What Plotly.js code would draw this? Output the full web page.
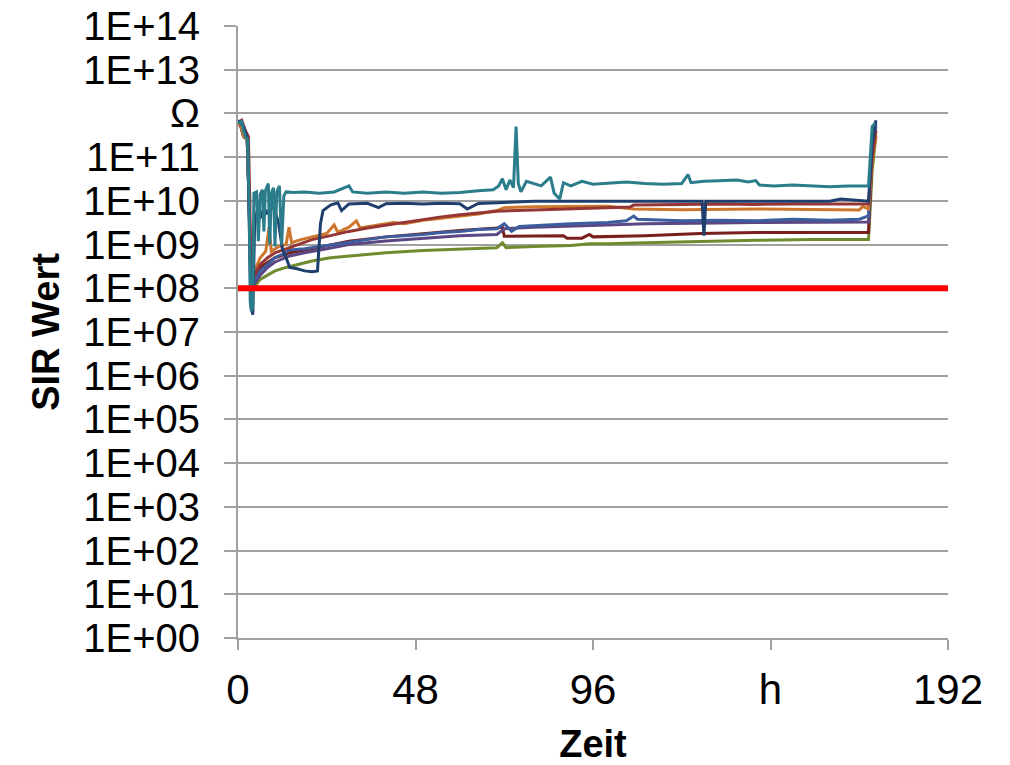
<!DOCTYPE html>
<html>
<head>
<meta charset="utf-8">
<script src="https://cdn.plot.ly/plotly-3.0.1.min.js"></script>
<style>html,body{margin:0;padding:0;background:#fff;}#chart{width:1010px;height:765px;}</style>
</head>
<body>
<div id="chart"></div>
<script>
// ---- tick labels ----
const yTickVals = [1e0,1e1,1e2,1e3,1e4,1e5,1e6,1e7,1e8,1e9,1e10,1e11,1e12,1e13,1e14];
const yTickText = ["1E+00","1E+01","1E+02","1E+03","1E+04","1E+05","1E+06","1E+07","1E+08","1E+09","1E+10","1E+11","Ω","1E+13","1E+14"];
const xTickVals = [0,48,96,144,192];
const xTickText = ["0","48","96","h","192"];

// ---- limit line ----
const limitT = [0,192];
const limitV = [1e8,1e8];

// ---- series (time in h, SIR value in Ω) ----
const oliveT = [0,0.8,1.5,2.5,3.0,3.3,3.6,4.5,6,8,10,13,16,20,25,30,40,50,60,70,71.5,72.5,80,90,95,100,110,120,126,140,155,170.5,171.5,172.5];
const oliveV = [6e11,5e11,3e11,2.5e11,1e10,1e9,8e7,1.1e8,1.6e8,2e8,2.5e8,3e8,3.5e8,4.2e8,5e8,5.5e8,6.5e8,7.3e8,8e8,8.5e8,1.1e9,8.5e8,9e8,9.5e8,1.05e9,1.05e9,1.1e9,1.15e9,1.2e9,1.25e9,1.3e9,1.3e9,5e10,3e11];

const red2T = [0,0.8,1.5,2.5,3.0,3.5,4.5,6,10,14,20,30,40,50,60,70,71.5,72,80,88,89,93,95,96,110,125,140,155,170.5,171.5,172.5];
const red2V = [6e11,5e11,3e11,2.5e11,1e10,1e8,1.8e8,3e8,5e8,6.5e8,8e8,1.2e9,1.5e9,1.8e9,2.1e9,2.4e9,2.5e9,1.55e9,1.6e9,1.6e9,1.4e9,1.4e9,1.7e9,1.5e9,1.6e9,1.8e9,1.9e9,1.9e9,1.9e9,1.2e11,4e11];

const purpleT = [0,0.8,1.5,2.5,3.0,3.5,4.5,6,8,10,14,18,24,30,40,50,60,70,72,80,90,100,110,120,130,140,150,160,170.5,171.5,172.5];
const purpleV = [6e11,5e11,3e11,2.5e11,1e10,8e7,1.3e8,2e8,3e8,4e8,5.5e8,6.5e8,8e8,1e9,1.2e9,1.4e9,1.6e9,1.7e9,2.3e9,2.5e9,2.6e9,2.8e9,3e9,3e9,3.1e9,3.2e9,3.2e9,3.3e9,3.3e9,1.5e11,5e11];

const blueT = [0,0.8,1.5,2.5,3.0,3.5,4.5,6,8,10,12,14,18,22,26,30,35,40,45,50,55,60,65,70,72,74,76,80,85,90,100,105,107,108,120,130,140,150,160,168,170.5,171.5,172.5];
const blueV = [6e11,5e11,3e11,2.5e11,1e10,6e7,1.5e8,2.5e8,3.5e8,5e8,6e8,7.5e8,8e8,9e8,1e9,1.1e9,1.3e9,1.5e9,1.6e9,1.7e9,1.9e9,2e9,2.2e9,2.3e9,3e9,2e9,2.6e9,2.7e9,2.9e9,3e9,3.2e9,3.5e9,4.5e9,3.8e9,3.5e9,3.6e9,3.5e9,3.8e9,3.6e9,3.8e9,4.5e9,1.5e11,6e11];

const orangeT = [0,0.8,1.5,2.5,3.0,3.5,4.5,6,7.5,8.4,9,11,13,13.8,14.5,17,20,24,26,27,30,32,33,38,42,45,50,55,60,65,70,72,80,90,100,107,120,140,160,168,169,170.5,171.5,172.5];
const orangeV = [6e11,5e11,3e11,2.5e11,1e10,1.3e8,2.5e8,5e8,7e8,2.5e9,7e8,9e8,1e9,2.5e9,1.1e9,1.3e9,1.5e9,1.8e9,2.8e9,1.9e9,2.5e9,3.5e9,2.4e9,2.8e9,3.2e9,3e9,3.6e9,4e9,4.5e9,5e9,6e9,7e9,7.3e9,7.5e9,7.5e9,6.5e9,6.3e9,6.5e9,6.3e9,6.2e9,7.5e9,6.5e9,8e10,3e11];

const redT = [0,1,2,2.8,3.2,3.5,4,5,6,8,10,13,16,20,25,30,35,40,45,50,55,60,65,70,80,90,96,100,106,107,110,120,130,140,150,160,170.5,171.5,172.5];
const redV = [6e11,7e11,4e11,3e11,1e10,1.2e8,1.5e8,2.5e8,3.5e8,5e8,6.5e8,8e8,1e9,1.3e9,1.6e9,2e9,2.4e9,2.8e9,3.2e9,3.8e9,4.3e9,4.8e9,5.3e9,5.8e9,6.2e9,6.5e9,6.8e9,7e9,7.2e9,8e9,8e9,8.2e9,8.5e9,8.3e9,8.5e9,8.4e9,8.5e9,1e11,4e11];

const navyT = [0,1.5,2.6,3.1,3.5,4.0,4.5,5.2,6,7,8,9,10,11,12,13,14,16,18,20,21.5,22.3,23,25,27,28,30,35,38,40,45,50,55,60,62,65,70,75,80,90,100,110,120,125.5,126,126.5,130,140,150,160,163,166,170.5,171.5,172.5];
const navyV = [7e11,5e11,2.5e11,3e9,4e7,2.5e7,3e9,6e9,4e9,7e9,5e9,8e9,6e9,3e9,8e8,5e8,3e8,2.8e8,2.5e8,2.4e8,2.5e8,3e9,6e9,8e9,9e9,6e9,8.5e9,8.8e9,7e9,8.6e9,8.8e9,8.5e9,8.8e9,8.6e9,6.5e9,8.7e9,9e9,9.5e9,9.8e9,9.8e9,9.7e9,9.8e9,9.8e9,9.8e9,1.6e9,9.8e9,9.8e9,9.8e9,9.9e9,9.8e9,1.1e10,1.05e10,9.8e9,2e11,7e11];

const tealT = [0,1,1.5,2,2.6,3.0,3.3,3.6,4.0,4.3,5,5.5,6,6.6,7,7.4,8.2,8.6,9,9.6,10,10.5,11.2,11.8,12.4,13,15,18,22,26,30,31,35,40,45,50,55,60,65,69,70.5,71.5,72.5,73.5,74.5,75.2,75.8,76.5,78,80,82,84.5,85.5,87,88,90,93,96,100,105,110,115,120,121.7,122.5,126,130,135,138,140,141,145,150,155,160,165,170.5,171.5,172.3];
const tealV = [6e11,6.5e11,4e11,3e11,2.5e11,1e10,5e7,3e7,4e7,1.5e10,1.6e10,1.2e9,1.4e10,1.8e10,2e9,1.7e10,2.5e10,1e9,1.5e10,2e10,9e8,1.6e10,2.2e10,1e9,1.3e10,1.6e10,1.55e10,1.6e10,1.5e10,1.6e10,2.2e10,1.6e10,1.5e10,1.6e10,1.5e10,1.6e10,1.5e10,1.55e10,1.7e10,1.8e10,2.2e10,3.2e10,1.8e10,3e10,2e10,5e11,2.5e10,1.6e10,2.8e10,2.5e10,2.2e10,3.5e10,1.5e10,1.1e10,2.6e10,2.2e10,2.8e10,2.4e10,2.5e10,2.7e10,2.5e10,2.4e10,2.5e10,4e10,2.6e10,2.8e10,2.9e10,3e10,2.7e10,2.9e10,2.3e10,2.2e10,2.3e10,2.2e10,2.1e10,2.2e10,2.2e10,5e11,6e11];

function line(t, v, color, width) {
  return {x: t, y: v, type: 'scatter', mode: 'lines', line: {color: color, width: width || 3}, hoverinfo: 'skip'};
}

const data = [
  line(oliveT, oliveV, '#6f8b2f'),
  line(red2T, red2V, '#7a1e1e'),
  line(purpleT, purpleV, '#5b4784'),
  line(blueT, blueV, '#3d5e9e'),
  line(orangeT, orangeV, '#cc772c'),
  line(redT, redV, '#963634'),
  line(navyT, navyV, '#1f3f6e'),
  line(tealT, tealV, '#2b7d8c'),
  line(limitT, limitV, '#ff0000', 6)
];

const font = "'Liberation Sans', Arial, sans-serif";
const layout = {
  width: 1010, height: 765,
  margin: {l: 238, r: 62, t: 26, b: 127},
  paper_bgcolor: '#ffffff', plot_bgcolor: '#ffffff',
  showlegend: false,
  font: {family: font, color: '#000'},
  xaxis: {
    range: [0, 192], tickvals: xTickVals, ticktext: xTickText,
    showgrid: false, zeroline: false,
    showline: true, linecolor: '#a0a0a0', linewidth: 2,
    ticks: 'outside', ticklen: 10, tickwidth: 2, tickcolor: '#a0a0a0',
    tickfont: {size: 42, family: font},
    ticklabelstandoff: 4,
    title: {text: '<b>Zeit</b>', font: {size: 38, family: font}, standoff: 18}
  },
  yaxis: {
    type: 'log', range: [0, 14], tickvals: yTickVals, ticktext: yTickText,
    showgrid: true, gridcolor: '#a0a0a0', gridwidth: 2,
    zeroline: false,
    showline: true, linecolor: '#a0a0a0', linewidth: 2,
    ticks: 'outside', ticklen: 12, tickwidth: 2, tickcolor: '#a0a0a0',
    tickfont: {size: 40, family: font},
    ticklabelstandoff: 16,
    title: {text: '<b>SIR Wert</b>', font: {size: 38, family: font}, standoff: 12}
  }
};

Plotly.newPlot('chart', data, layout, {displayModeBar: false, staticPlot: true});
</script>
</body>
</html>
